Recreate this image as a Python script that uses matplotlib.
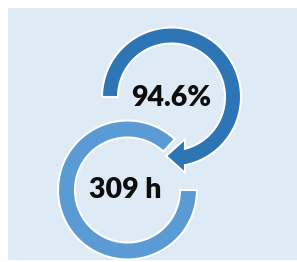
import matplotlib.pyplot as plt
from matplotlib.patches import Polygon, Rectangle
import numpy as np

# labels shown in the two circles
labels = ['94.6%', '309 h']
colors = ['#2E75B6', '#5B9BD5']
bg_color = '#DEEAF6'

# circle centres / radii in pixel units (y down)
centers = [(171.5, 97.0), (127.5, 190.0)]
r_out = [69.5, 69.5]
r_in = [53.5, 52.5]


def arc(cx, cy, r, t0, t1, n=120):
    t = np.radians(np.linspace(t0, t1, n))
    return np.column_stack([cx + r * np.cos(t), cy - r * np.sin(t)])


fig = plt.figure(figsize=(2.97, 2.62), dpi=100)
ax = fig.add_axes([0, 0, 1, 1])
ax.set_xlim(0, 297)
ax.set_ylim(262, 0)
ax.axis('off')

ax.add_patch(Rectangle((8, 8), 289, 252, facecolor=bg_color, edgecolor='none'))

# lower ring (open between 0 and 47 degrees)
cx, cy = centers[1]
pts = np.vstack([arc(cx, cy, r_out[1], 0, -313), arc(cx, cy, r_in[1], -313, 0)])
ax.add_patch(Polygon(pts, closed=True, facecolor=colors[1], edgecolor='white', lw=1.5, joinstyle='miter'))

# upper ring with arrow head
cx, cy = centers[0]
outer = arc(cx, cy, r_out[0], 180, -78.8)
inner = arc(cx, cy, r_in[0], -75.4, 180)
head = np.array([[185, 173], [166, 156], [185, 139]])
pts = np.vstack([outer, head, inner])
ax.add_patch(Polygon(pts, closed=True, facecolor=colors[0], edgecolor='white', lw=1.5, joinstyle='miter'))

ax.text(171.5, 105.5, labels[0], ha='center', va='baseline', fontsize=20.5,
        fontweight='heavy', family='Lato', color='#0D0D0D')
ax.text(125, 198.5, labels[1], ha='center', va='baseline', fontsize=20.5,
        fontweight='heavy', family='Lato', color='#0D0D0D')

fig.savefig('out.png', dpi=100)
